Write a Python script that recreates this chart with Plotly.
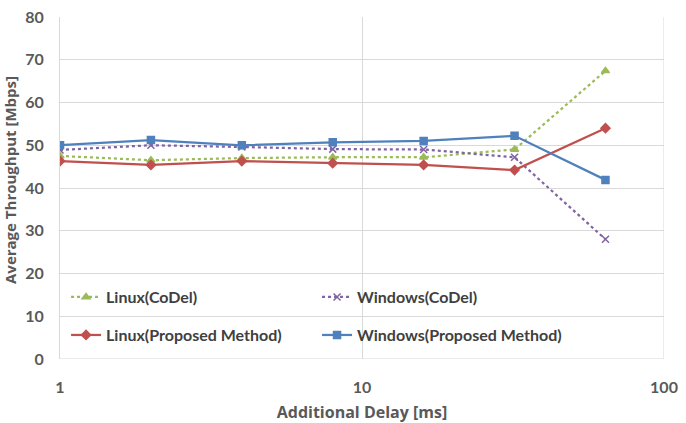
import plotly.graph_objects as go

delays = [1, 2, 4, 8, 16, 32, 64]
linux_codel = [47.5, 46.5, 47.0, 47.2, 47.2, 49.0, 67.4]
windows_codel = [48.9, 50.0, 49.6, 49.1, 49.0, 47.2, 28.0]
linux_proposed = [46.3, 45.4, 46.3, 45.8, 45.4, 44.2, 54.0]
windows_proposed = [50.0, 51.2, 50.0, 50.7, 51.0, 52.2, 41.9]

x_ticks = [1, 10, 100]
y_ticks = [0, 10, 20, 30, 40, 50, 60, 70, 80]

series = [
    ("Linux(CoDel)", linux_codel, "#9BBB59", "dot", "triangle-up", "legend"),
    ("Windows(CoDel)", windows_codel, "#8064A2", "dot", "x-thin-open", "legend"),
    ("Linux(Proposed Method)", linux_proposed, "#C0504D", "solid", "diamond", "legend2"),
    ("Windows(Proposed Method)", windows_proposed, "#4F81BD", "solid", "square", "legend2"),
]

fig = go.Figure()
for name, vals, color, dash, sym, leg in series:
    fig.add_trace(go.Scatter(
        x=delays, y=vals, name=name, mode="lines+markers", legend=leg,
        line=dict(color=color, width=2.25, dash=dash),
        marker=dict(symbol=sym, size=7, color=color,
                    line=dict(color=color, width=1.5)),
    ))

font_fam = "Lato"
tick_font = dict(family=font_fam, size=16, color="#595959", weight=700)
leg_common = dict(
    orientation="h", x=0.01, xanchor="left", yanchor="middle",
    entrywidth=206, entrywidthmode="pixels",
    bgcolor="rgba(0,0,0,0)",
    font=dict(family=font_fam, size=16, color="#404040", weight=700),
    itemwidth=30,
)
fig.update_layout(
    width=686, height=423,
    margin=dict(l=60, r=22, t=17, b=64),
    paper_bgcolor="white", plot_bgcolor="white",
    font=dict(family=font_fam, color="#595959", size=14),
    showlegend=True,
    legend=dict(leg_common, y=0.181),
    legend2=dict(leg_common, y=0.070),
    xaxis=dict(
        type="log", range=[0, 2], tickvals=x_ticks,
        ticktext=[str(v) for v in x_ticks],
        showgrid=True, gridcolor="#D9D9D9", gridwidth=1,
        showline=False, zeroline=False, ticks="",
        ticklabelstandoff=17, automargin=False,
        tickfont=tick_font,
        title=dict(text="Additional Delay [ms]",
                   font=dict(family="Open Sans", size=16, color="#595959", weight="bold"),
                   standoff=11),
    ),
    yaxis=dict(
        range=[0, 80], tickvals=y_ticks,
        showgrid=True, gridcolor="#D9D9D9", gridwidth=1,
        showline=True, linecolor="#D9D9D9", zeroline=False, ticks="",
        ticklabelstandoff=12, automargin=False,
        tickfont=tick_font,
    ),
    annotations=[dict(
        text="Average Throughput [Mbps]", textangle=-90,
        xref="paper", yref="paper", x=0, y=0.5, xanchor="center", yanchor="middle",
        xshift=-50, yshift=8, showarrow=False,
        font=dict(family="Open Sans", size=15, color="#595959", weight="bold"),
    )],
)
fig.add_shape(type="line", xref="x", yref="paper", x0=100, x1=100, y0=0, y1=1,
              line=dict(color="#D9D9D9", width=1), layer="below")
fig.add_shape(type="line", xref="paper", yref="y", x0=0, x1=1, y0=0, y1=0,
              line=dict(color="#D9D9D9", width=1), layer="below")

fig.write_html("out.html")
